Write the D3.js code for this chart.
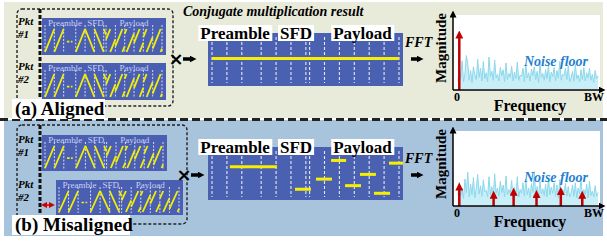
<!DOCTYPE html>
<html>
<head>
<meta charset="utf-8">
<script src="https://cdn.jsdelivr.net/npm/d3@7"></script>
<style>
  body { margin: 0; background: #fff; }
  svg { display: block; }
</style>
</head>
<body>
<div id="container"></div>
<script>
var width = 607;
var height = 244;

// symbol boundaries (in symbol units) and what each slot holds
var symbolEdges = [0, 1, 2, 3.3, 4.3, 5.3, 6.3, 6.55, 7.55, 8.55, 9.55, 10.55, 11.55, 12.55];
var slotKinds = ["up", "up", "gap", "up", "down", "down", "quarter", "pay", "pay", "pay", "pay", "pay", "pay"];
var payloadShifts = [0.55, 0.25, 0.8, 0.4, 0.65, 0.15];
var sectionNames = ["Preamble", "SFD", "Payload"];
var sectionCenters = [2.15, 5.42, 9.55];      // inside the packet boxes
var bigLabelCenters = [1.55, 5.64, 10.1];     // on the multiplication result

// conjugate multiplication result: [start, end, level]
var alignedSegments = [[0, 12.55, 0.52]];
var misalignedSegments = [
  [1.2, 4.36, 0.65], [5.57, 6.64, 0.15], [6.98, 8.05, 0.375], [7.99, 9.0, 0.79],
  [8.93, 10.0, 0.23], [9.93, 11.0, 0.48], [10.87, 11.95, 0.06], [11.88, 12.82, 0.73]
];

// spectra
var noiseA = [1.2, 2.8, 1.5, 3.9, 1.1, 2.2, 4.6, 3.5, 1.3, 2.6, 1.0, 3.1, 2.0, 1.4, 4.1, 1.7, 2.9, 1.2, 3.8, 1.5,
  2.3, 1.1, 4.4, 1.8, 2.5, 1.3, 4.0, 1.6, 2.1, 1.2, 3.0, 1.9, 2.7, 1.1, 3.6, 1.4, 2.2, 1.7, 3.2, 1.2,
  2.4, 1.5, 3.7, 1.3, 2.0, 1.8, 2.9, 1.1, 3.4, 1.6, 2.3, 1.2, 2.8, 1.9, 3.1, 1.4, 2.5, 1.0, 3.5, 1.7,
  2.2, 1.3, 2.7, 1.5, 3.3, 1.1, 2.4, 1.8, 3.0, 1.2, 2.6, 1.6, 3.8, 1.3, 2.1, 1.9, 2.9, 1.4, 3.2, 1.1,
  1.6, 2.5, 1.2, 3.4, 1.5, 2.0, 1.1, 2.7, 1.4, 3.0, 1.2, 2.3, 1.6, 2.9, 1.3, 2.1, 1.0, 2.6, 1.5, 1.9];
var noiseB = [1.4, 3.2, 1.3, 2.4, 1.0, 3.6, 1.8, 4.5, 1.2, 2.9, 1.5, 3.8, 1.1, 2.3, 4.2, 1.6, 2.7, 1.3, 3.5, 1.9,
  2.1, 1.2, 3.9, 1.5, 2.6, 1.1, 4.3, 1.7, 2.4, 1.3, 3.3, 1.8, 2.8, 1.2, 4.0, 1.5, 2.2, 1.6, 3.4, 1.1,
  2.5, 1.4, 3.9, 1.2, 2.2, 1.7, 3.1, 1.3, 3.6, 1.5, 2.4, 1.1, 3.0, 1.8, 4.6, 1.3, 2.6, 1.2, 3.3, 1.6,
  2.3, 1.4, 2.9, 1.2, 3.7, 1.5, 2.5, 1.7, 3.1, 1.3, 2.8, 1.1, 3.5, 1.4, 2.2, 1.8, 3.0, 1.3, 2.6, 1.2,
  1.7, 2.8, 1.3, 3.1, 1.1, 2.4, 1.6, 3.6, 1.2, 2.2, 1.5, 2.9, 1.1, 3.3, 1.4, 2.0, 1.2, 2.7, 1.3, 1.8];
var peaksA = [[0.03, 7.8]];
var peaksB = [[0.03, 3.0], [0.27, 1.9], [0.41, 2.3], [0.57, 2.0], [0.74, 2.4], [0.89, 1.9]];

var serif = "'Liberation Serif', 'Times New Roman', Times, serif";

var svg = d3.select("div#container").append("svg")
    .attr("width", width)
    .attr("height", height)
    .attr("font-family", serif);

var defs = svg.append("defs");
function marker(id, color, w) {
  defs.append("marker").attr("id", id)
    .attr("viewBox", "0 0 10 10").attr("refX", 5).attr("refY", 5)
    .attr("markerWidth", w).attr("markerHeight", w).attr("orient", "auto-start-reverse")
    .attr("markerUnits", "userSpaceOnUse")
    .append("path").attr("d", "M0,0L10,5L0,10z").attr("fill", color);
}
marker("blk", "#000", 7);
marker("red", "#c00000", 8);
marker("redS", "#d00000", 6);

// backgrounds
svg.append("rect").attr("x", 4).attr("y", 2).attr("width", 599).attr("height", 116).attr("fill", "#e8ebda");
svg.append("rect").attr("x", 4).attr("y", 120).attr("width", 599).attr("height", 116).attr("fill", "#a8c3dc");
svg.append("line").attr("x1", 0).attr("x2", width).attr("y1", 119.5).attr("y2", 119.5)
  .attr("stroke", "#222").attr("stroke-width", 3).attr("stroke-dasharray", "8,4");

function packetBox(g, x, y, w, h) {
  var xs = d3.scaleLinear().domain([0, 12.55]).range([x + 3, x + w - 4]);
  var ys = d3.scaleLinear().domain([0, 1]).range([y + h - 3, y + 11]);
  g.append("rect").attr("x", x).attr("y", y).attr("width", w).attr("height", h).attr("fill", "#4a5fb2");
  g.selectAll("line.edge").data(symbolEdges).enter().append("line")
    .attr("x1", xs).attr("x2", xs).attr("y1", y + 7).attr("y2", y + h - 2)
    .attr("stroke", "#e4e8f8").attr("stroke-width", 0.9).attr("stroke-dasharray", "2,1.5");
  g.selectAll("text.sec").data(sectionNames).enter().append("text")
    .attr("x", function(d, i) { return xs(sectionCenters[i]); })
    .attr("y", y + 8).attr("text-anchor", "middle")
    .attr("font-size", 9).attr("fill", "#c9d0f2").text(function(d) { return d; });
  var segs = [];
  var p = 0;
  slotKinds.forEach(function(k, i) {
    var a = symbolEdges[i], b = symbolEdges[i + 1];
    if (k === "up") segs.push([a, 0, b, 1]);
    else if (k === "down") segs.push([a, 1, b, 0]);
    else if (k === "quarter") segs.push([a, 1, b, 0.75]);
    else if (k === "gap") segs.push({ gap: true, a: a + 0.35, b: b - 0.35 });
    else {
      var s = payloadShifts[p++];
      segs.push([a, s, a + (1 - s), 1]);
      segs.push([a + (1 - s), 0, b, s]);
    }
  });
  segs.forEach(function(s) {
    if (s.gap) {
      g.append("line").attr("x1", xs(s.a)).attr("x2", xs(s.b))
        .attr("y1", ys(0.45)).attr("y2", ys(0.45))
        .attr("stroke", "#f4f000").attr("stroke-width", 1.6).attr("stroke-dasharray", "2.5,1.5");
    } else {
      g.append("line").attr("x1", xs(s[0])).attr("y1", ys(s[1])).attr("x2", xs(s[2])).attr("y2", ys(s[3]))
        .attr("stroke", "#f4f000").attr("stroke-width", 1.8);
    }
  });
}

function pktLabel(g, x, y1, y2, num) {
  g.append("text").attr("x", x).attr("y", y1).attr("font-size", 11).attr("font-weight", "bold")
    .attr("font-style", "italic").text("Pkt");
  g.append("text").attr("x", x).attr("y", y2).attr("font-size", 11).attr("font-weight", "bold")
    .attr("font-style", "italic").text("#" + num);
}

function resultBox(g, y, segments) {
  var x0 = 208, x1 = 403, h = 53;
  var xs = d3.scaleLinear().domain([0, 12.55]).range([212, 399]);
  var ys = d3.scaleLinear().domain([0, 1]).range([y + h - 4, y + 4]);
  g.append("rect").attr("x", x0).attr("y", y).attr("width", x1 - x0).attr("height", h).attr("fill", "#4a61b2");
  g.selectAll("line.edge").data(symbolEdges).enter().append("line")
    .attr("x1", xs).attr("x2", xs).attr("y1", y + 4).attr("y2", y + h - 3)
    .attr("stroke", "#ffffff").attr("stroke-opacity", 0.85).attr("stroke-width", 1.1)
    .attr("stroke-dasharray", "3,2");
  g.selectAll("line.seg").data(segments).enter().append("line")
    .attr("x1", function(d) { return xs(d[0]); }).attr("x2", function(d) { return xs(d[1]); })
    .attr("y1", function(d) { return ys(d[2]); }).attr("y2", function(d) { return ys(d[2]); })
    .attr("stroke", "#f6f000").attr("stroke-width", 3);
  var lab = g.selectAll("g.lab").data(sectionNames).enter().append("g");
  lab.append("text")
    .attr("x", function(d, i) { return xs(bigLabelCenters[i]); })
    .attr("y", y + 6).attr("text-anchor", "middle")
    .attr("font-size", 17).attr("font-weight", "bold").text(function(d) { return d; })
    .each(function() {
      var b = this.getBBox();
      d3.select(this.parentNode).insert("rect", "text")
        .attr("x", b.x - 2).attr("y", y - 8).attr("width", b.width + 4).attr("height", 16).attr("fill", "#fff");
    });
}

function spectrum(g, top, noise, peaks) {
  var axY = top + 75;
  var xs = d3.scaleLinear().domain([0, 1]).range([455, 598]);
  var ys = d3.scaleLinear().domain([0, 10]).range([axY, top]);
  g.append("rect").attr("x", 453).attr("y", top).attr("width", 147).attr("height", 75).attr("fill", "#fff");
  var nx = d3.scaleLinear().domain([0, noise.length - 1]).range([0.02, 1]);
  var area = d3.area().x(function(d, i) { return xs(nx(i)); }).y0(axY - 1).y1(function(d) { return ys(d); });
  g.append("path").attr("d", area(noise)).attr("fill", "#c8eef7");
  g.append("path").attr("d", area.lineY1()(noise)).attr("fill", "none").attr("stroke", "#8cd8ec").attr("stroke-width", 1);
  g.selectAll("line.pk").data(peaks).enter().append("line")
    .attr("x1", function(d) { return xs(d[0]); }).attr("x2", function(d) { return xs(d[0]); })
    .attr("y1", axY).attr("y2", function(d) { return ys(d[1]) + 3; })
    .attr("stroke", "#c00000").attr("stroke-width", 2.5).attr("marker-end", "url(#red)");
  g.append("line").attr("x1", 453).attr("x2", 453).attr("y1", axY).attr("y2", top - 1)
    .attr("stroke", "#000").attr("stroke-width", 1.5).attr("marker-end", "url(#blk)");
  g.append("line").attr("x1", 453).attr("x2", 602).attr("y1", axY).attr("y2", axY)
    .attr("stroke", "#000").attr("stroke-width", 1.5).attr("marker-end", "url(#blk)");
  g.append("text").attr("transform", "translate(446," + (top + 33) + ") rotate(-90)")
    .attr("text-anchor", "middle").attr("font-size", 15).attr("font-weight", "bold").text("Magnitude");
  g.append("text").attr("x", 457).attr("y", axY + 11).attr("text-anchor", "middle")
    .attr("font-size", 12).attr("font-weight", "bold").text("0");
  g.append("text").attr("x", 594).attr("y", axY + 11).attr("text-anchor", "middle")
    .attr("font-size", 12).attr("font-weight", "bold").text("BW");
  g.append("text").attr("x", 530).attr("y", axY + 21).attr("text-anchor", "middle")
    .attr("font-size", 16).attr("font-weight", "bold").text("Frequency");
  g.append("text").attr("x", 556).attr("y", top + 51).attr("text-anchor", "middle")
    .attr("font-size", 14).attr("font-weight", "bold").attr("font-style", "italic")
    .attr("fill", "#1f7fd0").text("Noise floor");
  g.append("text").attr("x", 405).attr("y", top + 32).attr("font-size", 14).attr("font-weight", "bold")
    .attr("font-style", "italic").text("FFT");
  g.append("line").attr("x1", 411).attr("x2", 420).attr("y1", top + 44).attr("y2", top + 44)
    .attr("stroke", "#000").attr("stroke-width", 3.5).attr("marker-end", "url(#blk)");
}

function multArrow(g, x, y) {
  g.append("text").attr("x", x).attr("y", y + 6).attr("text-anchor", "middle")
    .attr("font-size", 18).attr("font-weight", "bold").attr("font-family", "DejaVu Sans").text("×");
  g.append("line").attr("x1", x + 7).attr("x2", x + 17).attr("y1", y).attr("y2", y)
    .attr("stroke", "#000").attr("stroke-width", 3.5).attr("marker-end", "url(#blk)");
}

function caseLabel(g, x, y, w, txt) {
  g.append("rect").attr("x", x).attr("y", y).attr("width", w).attr("height", 20).attr("fill", "#fff");
  g.append("text").attr("x", x + 3).attr("y", y + 16).attr("font-size", 19).attr("font-weight", "bold").text(txt);
}

// (a) aligned
var ga = svg.append("g");
ga.append("rect").attr("x", 17).attr("y", 9).attr("width", 156).attr("height", 97).attr("rx", 5)
  .attr("fill", "none").attr("stroke", "#222").attr("stroke-width", 1.4).attr("stroke-dasharray", "3,2");
ga.append("line").attr("x1", 40).attr("x2", 40).attr("y1", 9).attr("y2", 101)
  .attr("stroke", "#111").attr("stroke-width", 3).attr("stroke-dasharray", "4,2");
pktLabel(ga, 18, 25, 38, 1);
pktLabel(ga, 18, 70, 83, 2);
packetBox(ga, 42, 18, 124, 37);
packetBox(ga, 42, 63, 124, 37);
caseLabel(ga, 12, 99, 93, "(a) Aligned");
multArrow(ga, 176, 59);
ga.append("text").attr("x", 183).attr("y", 16).attr("font-size", 14).attr("font-weight", "bold")
  .attr("font-style", "italic").text("Conjugate multiplication result");
resultBox(ga, 33, alignedSegments);
spectrum(ga, 15, noiseA, peaksA);

// (b) misaligned
var gb = svg.append("g");
gb.append("rect").attr("x", 17).attr("y", 125).attr("width", 170).attr("height", 99).attr("rx", 5)
  .attr("fill", "none").attr("stroke", "#222").attr("stroke-width", 1.4).attr("stroke-dasharray", "3,2");
gb.append("line").attr("x1", 40).attr("x2", 40).attr("y1", 125).attr("y2", 215)
  .attr("stroke", "#111").attr("stroke-width", 3).attr("stroke-dasharray", "4,2");
pktLabel(gb, 18, 143, 156, 1);
pktLabel(gb, 18, 188, 201, 2);
packetBox(gb, 42, 135, 125, 36);
packetBox(gb, 56, 180, 127, 35);
gb.append("line").attr("x1", 44).attr("x2", 52).attr("y1", 205).attr("y2", 205)
  .attr("stroke", "#d00000").attr("stroke-width", 1.5)
  .attr("marker-start", "url(#redS)").attr("marker-end", "url(#redS)");
caseLabel(gb, 12, 215, 118, "(b) Misaligned");
multArrow(gb, 184, 175);
resultBox(gb, 147, misalignedSegments);
spectrum(gb, 131, noiseB, peaksB);
</script>
</body>
</html>
